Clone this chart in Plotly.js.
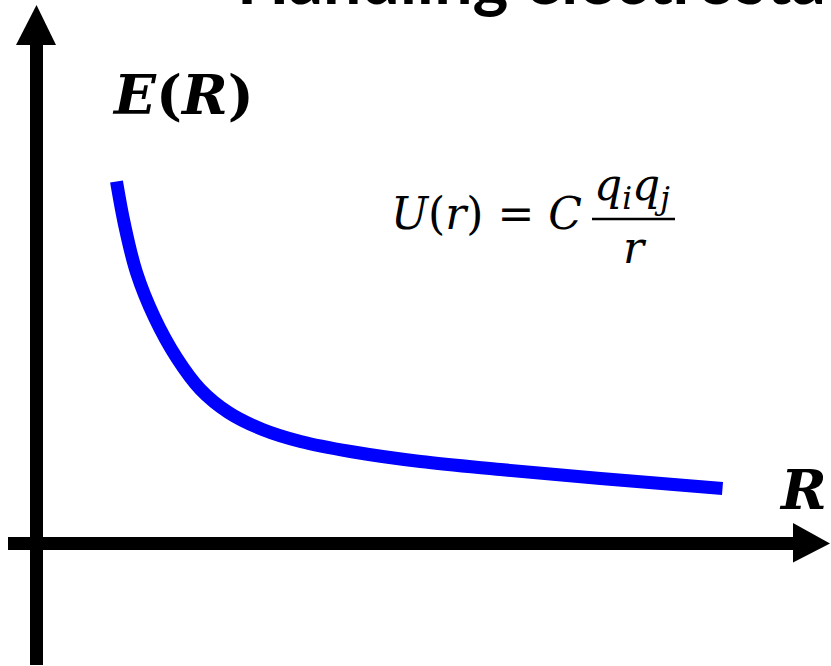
<!DOCTYPE html>
<html>
<head>
<meta charset="utf-8">
<script src="https://cdn.plot.ly/plotly-3.0.1.min.js"></script>
<style>
  html, body { margin: 0; padding: 0; background: #ffffff; }
  #chart { width: 831px; height: 666px; }
</style>
</head>
<body>
<div id="chart"></div>
<script>
// Energy vs separation for a Coulomb-like interaction (arbitrary units)
const separationR = [0.80, 0.88, 1.00, 1.18, 1.40, 1.64, 1.92, 2.26, 2.64, 3.14, 3.84, 4.64, 5.64, 6.86];
const energyE     = [3.62, 3.19, 2.71, 2.26, 1.86, 1.54, 1.31, 1.14, 1.02, 0.92, 0.82, 0.74, 0.65, 0.55];

const titleText = 'Handling electrostatics';
const yLabel = '<b><i>E</i>(<i>R</i>)</b>';
const xLabel = '<b><i>R</i></b>';

// axis extents (data units)
const xMin = -0.365, xMax = 7.945;
const yMin = -1.225, yMax = 5.435;

const serif = 'DejaVu Serif, Liberation Serif, serif';

const curve = {
  x: separationR,
  y: energyE,
  type: 'scatter',
  mode: 'lines',
  line: { color: '#0000ff', width: 13, shape: 'spline', smoothing: 1 },
  hoverinfo: 'skip',
  showlegend: false
};

// thick black axis shafts with triangular arrow heads
const axisShapes = [
  { type: 'line', xref: 'x', yref: 'y', x0: 0, x1: 0, y0: -1.215, y1: 5.0,
    line: { color: '#000', width: 13 } },
  { type: 'path', xref: 'x', yref: 'y',
    path: 'M -0.205 4.985 L 0.195 4.985 L 0 5.385 Z',
    fillcolor: '#000', line: { width: 0 } },
  { type: 'line', xref: 'x', yref: 'y', x0: -0.285, x1: 7.58, y0: 0, y1: 0,
    line: { color: '#000', width: 13 } },
  { type: 'path', xref: 'x', yref: 'y',
    path: 'M 7.565 0.205 L 7.565 -0.19 L 7.935 0 Z',
    fillcolor: '#000', line: { width: 0 } },
  // fraction bar of the potential formula
  { type: 'line', xref: 'x', yref: 'y', x0: 5.555, x1: 6.385, y0: 3.245, y1: 3.245,
    line: { color: '#000', width: 2.5 } }
];

const annotations = [
  // slide heading, running off the top edge
  { text: '<b>' + titleText + '</b>', xref: 'paper', yref: 'paper', x: 0.283, y: 1.034,
    xanchor: 'left', yanchor: 'middle', showarrow: false,
    font: { family: 'Lato, Open Sans, sans-serif', size: 68, color: '#000' } },
  { text: yLabel, xref: 'x', yref: 'y', x: 0.73, y: 4.495,
    xanchor: 'left', yanchor: 'middle', showarrow: false,
    font: { family: serif, size: 55, color: '#000' } },
  { text: xLabel, xref: 'x', yref: 'y', x: 7.40, y: 0.545,
    xanchor: 'left', yanchor: 'middle', showarrow: false,
    font: { family: serif, size: 55, color: '#000' } },
  { text: '<i>U</i>(<i>r</i>) = <i>C</i>', xref: 'x', yref: 'y', x: 3.525, y: 3.305,
    xanchor: 'left', yanchor: 'middle', showarrow: false,
    font: { family: serif, size: 44, color: '#000' } },
  { text: '<i>q</i><sub><i>i</i></sub><i>q</i><sub><i>j</i></sub>', xref: 'x', yref: 'y', x: 5.955, y: 3.56,
    xanchor: 'center', yanchor: 'middle', showarrow: false,
    font: { family: serif, size: 44, color: '#000' } },
  { text: '<i>r</i>', xref: 'x', yref: 'y', x: 5.98, y: 2.96,
    xanchor: 'center', yanchor: 'middle', showarrow: false,
    font: { family: serif, size: 44, color: '#000' } }
];

const hidden = { visible: false, showgrid: false, zeroline: false, fixedrange: true };

const layout = {
  width: 831,
  height: 666,
  margin: { l: 0, r: 0, t: 0, b: 0, pad: 0 },
  paper_bgcolor: '#ffffff',
  plot_bgcolor: '#ffffff',
  xaxis: Object.assign({ range: [xMin, xMax] }, hidden),
  yaxis: Object.assign({ range: [yMin, yMax] }, hidden),
  shapes: axisShapes,
  annotations: annotations,
  showlegend: false
};

Plotly.newPlot('chart', [curve], layout, { displayModeBar: false, staticPlot: true });
</script>
</body>
</html>
